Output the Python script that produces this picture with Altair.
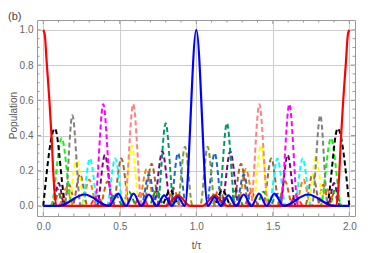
import altair as alt
import pandas as pd

# ---------- data (t/tau, population) ----------
red_t = [0.0, 0.01, 0.022, 0.04, 0.055, 0.068, 0.085, 0.8, 0.88, 0.96, 1.04, 1.12, 1.2, 1.915, 1.932, 1.945, 1.96, 1.978, 1.99, 2.0]
red_y = [1.0, 0.97, 0.82, 0.6, 0.38, 0.15, 0.0, 0.0, 0.06, 0.0, 0.0, 0.06, 0.0, 0.0, 0.15, 0.38, 0.6, 0.82, 0.97, 1.0]

blue_t = [0.0, 0.1, 0.27, 0.43, 0.49, 0.54, 0.59, 0.64, 0.69, 0.74, 0.79, 0.84, 0.88, 0.925, 1.0, 1.075,
          1.12, 1.16, 1.21, 1.26, 1.31, 1.36, 1.41, 1.46, 1.51, 1.57, 1.73, 1.9, 2.0]
blue_y = [0.0, 0.0, 0.065, 0.0, 0.07, 0.0, 0.07, 0.0, 0.065, 0.0, 0.06, 0.0, 0.05, 0.0, 1.0, 0.0,
          0.05, 0.0, 0.06, 0.0, 0.065, 0.0, 0.07, 0.0, 0.07, 0.0, 0.065, 0.0, 0.0]

black_t = [0.0, 0.076, 0.15, 0.77, 0.83, 0.89, 1.11, 1.17, 1.23, 1.85, 1.924, 2.0]
black_y = [0.0, 0.44, 0.0, 0.0, 0.09, 0.0, 0.0, 0.09, 0.0, 0.0, 0.44, 0.0]

lime_t = [0.0, 0.05, 0.12, 0.19, 1.81, 1.88, 1.95, 2.0]
lime_y = [0.0, 0.0, 0.385, 0.0, 0.0, 0.385, 0.0, 0.0]

gray_t = [0.0, 0.14, 0.19, 0.245, 1.755, 1.81, 1.86, 2.0]
gray_y = [0.0, 0.0, 0.515, 0.0, 0.0, 0.515, 0.0, 0.0]

yellow_t = [0.0, 0.165, 0.218, 0.27, 0.525, 0.578, 0.63, 1.37, 1.422, 1.475, 1.73, 1.782, 1.835, 2.0]
yellow_y = [0.0, 0.0, 0.28, 0.0, 0.0, 0.345, 0.0, 0.0, 0.345, 0.0, 0.0, 0.28, 0.0, 0.0]

cyan_t = [0.0, 0.25, 0.305, 0.36, 0.415, 0.47, 0.525, 1.475, 1.53, 1.585, 1.64, 1.695, 1.75, 2.0]
cyan_y = [0.0, 0.0, 0.27, 0.0, 0.0, 0.27, 0.0, 0.0, 0.27, 0.0, 0.0, 0.27, 0.0, 0.0]

magenta_t = [0.0, 0.335, 0.392, 0.45, 1.55, 1.608, 1.665, 2.0]
magenta_y = [0.0, 0.0, 0.578, 0.0, 0.0, 0.578, 0.0, 0.0]

purple_t = [0.0, 0.06, 0.10, 0.14, 0.35, 0.403, 0.455, 0.72, 0.778, 0.835,
            1.165, 1.222, 1.28, 1.545, 1.597, 1.65, 1.86, 1.90, 1.94, 2.0]
purple_y = [0.0, 0.0, 0.13, 0.0, 0.0, 0.29, 0.0, 0.0, 0.31, 0.0,
            0.0, 0.31, 0.0, 0.0, 0.29, 0.0, 0.0, 0.13, 0.0, 0.0]

brown_t = [0.0, 0.19, 0.24, 0.29, 0.455, 0.51, 0.565, 0.655, 0.708, 0.76,
           1.24, 1.292, 1.345, 1.435, 1.49, 1.545, 1.71, 1.76, 1.81, 2.0]
brown_y = [0.0, 0.0, 0.18, 0.0, 0.0, 0.27, 0.0, 0.0, 0.24, 0.0,
           0.0, 0.24, 0.0, 0.0, 0.27, 0.0, 0.0, 0.18, 0.0, 0.0]

salmon_t = [0.0, 0.53, 0.588, 0.645, 1.355, 1.412, 1.47, 2.0]
salmon_y = [0.0, 0.0, 0.578, 0.0, 0.0, 0.578, 0.0, 0.0]

teal_t = [0.0, 0.42, 0.47, 0.52, 0.745, 0.80, 0.855, 1.145, 1.20, 1.255, 1.48, 1.53, 1.58, 2.0]
teal_y = [0.0, 0.0, 0.07, 0.0, 0.0, 0.47, 0.0, 0.0, 0.47, 0.0, 0.0, 0.07, 0.0, 0.0]

steel_t = [0.0, 0.64, 0.69, 0.74, 0.83, 0.88, 0.935, 1.065, 1.12, 1.17, 1.26, 1.31, 1.36, 2.0]
steel_y = [0.0, 0.0, 0.18, 0.0, 0.0, 0.30, 0.0, 0.0, 0.30, 0.0, 0.0, 0.18, 0.0, 0.0]

olive_t = [0.0, 0.875, 0.926, 0.975, 1.025, 1.074, 1.125, 2.0]
olive_y = [0.0, 0.0, 0.336, 0.0, 0.0, 0.336, 0.0, 0.0]

orange_t = [0.0, 0.1, 0.15, 0.2, 0.25, 0.3, 0.35, 0.62, 0.676, 0.73,
            1.27, 1.324, 1.38, 1.65, 1.7, 1.75, 1.8, 1.85, 1.9, 2.0]
orange_y = [0.0, 0.0, 0.1, 0.0, 0.0, 0.15, 0.0, 0.0, 0.21, 0.0,
            0.0, 0.21, 0.0, 0.0, 0.15, 0.0, 0.0, 0.1, 0.0, 0.0]

reddash_t = [0.0, 0.06, 0.1, 0.14, 0.3, 0.35, 0.4, 0.59, 0.64, 0.69,
             1.31, 1.36, 1.41, 1.6, 1.65, 1.7, 1.86, 1.9, 1.94, 2.0]
reddash_y = [0.0, 0.0, 0.07, 0.0, 0.0, 0.06, 0.0, 0.0, 0.08, 0.0,
             0.0, 0.08, 0.0, 0.0, 0.06, 0.0, 0.0, 0.07, 0.0, 0.0]

green_t = [0.0, 0.05, 0.09, 0.13, 0.51, 0.56, 0.61, 0.69, 0.74, 0.79,
           1.21, 1.26, 1.31, 1.39, 1.44, 1.49, 1.87, 1.91, 1.95, 2.0]
green_y = [0.0, 0.0, 0.1, 0.0, 0.0, 0.08, 0.0, 0.0, 0.09, 0.0,
           0.0, 0.09, 0.0, 0.0, 0.08, 0.0, 0.0, 0.1, 0.0, 0.0]

dkorange_t = [0.0, 0.13, 0.17, 0.21, 0.37, 0.42, 0.47, 0.8, 0.85, 0.9,
              1.1, 1.15, 1.2, 1.53, 1.58, 1.63, 1.79, 1.83, 1.87, 2.0]
dkorange_y = [0.0, 0.0, 0.12, 0.0, 0.0, 0.14, 0.0, 0.0, 0.1, 0.0,
              0.0, 0.1, 0.0, 0.0, 0.14, 0.0, 0.0, 0.12, 0.0, 0.0]

dashed_series = [
    ("small red", "#FF3030", reddash_t, reddash_y),
    ("small green", "#00B000", green_t, green_y),
    ("dark orange", "#CC6600", dkorange_t, dkorange_y),
    ("orange", "#FF8000", orange_t, orange_y),
    ("brown", "#996633", brown_t, brown_y),
    ("cyan", "#00FFFF", cyan_t, cyan_y),
    ("yellow", "#FFFF00", yellow_t, yellow_y),
    ("purple", "#800080", purple_t, purple_y),
    ("steel", "#1F66CC", steel_t, steel_y),
    ("olive", "#80A020", olive_t, olive_y),
    ("teal", "#009966", teal_t, teal_y),
    ("lime", "#00FF00", lime_t, lime_y),
    ("black", "#000000", black_t, black_y),
    ("gray", "#808080", gray_t, gray_y),
    ("magenta", "#FF00FF", magenta_t, magenta_y),
    ("salmon", "#FF8080", salmon_t, salmon_y),
]
solid_series = [
    ("red", "#FF0000", red_t, red_y),
    ("blue", "#0000FF", blue_t, blue_y),
]

x_labels = [0.0, 0.5, 1.0, 1.5, 2.0]
y_labels = [0.0, 0.2, 0.4, 0.6, 0.8, 1.0]
x_minor = [0.1, 0.2, 0.3, 0.4, 0.6, 0.7, 0.8, 0.9, 1.1, 1.2, 1.3, 1.4, 1.6, 1.7, 1.8, 1.9]
y_minor = [0.05, 0.1, 0.15, 0.25, 0.3, 0.35, 0.45, 0.5, 0.55, 0.65, 0.7, 0.75, 0.85, 0.9, 0.95]


def frame(series_list):
    rows = []
    for name, _, ts, ys in series_list:
        for i, (t, y) in enumerate(zip(ts, ys)):
            rows.append({"series": name, "t": t, "y": y, "idx": i})
    return pd.DataFrame(rows)


W, H = 318, 196
FONT = "Liberation Sans"
xscale = alt.Scale(domain=[-0.041, 2.037], nice=False, zero=False)
yscale = alt.Scale(domain=[-0.057, 1.056], nice=False, zero=False)

xaxis = alt.Axis(values=x_labels, format=".1f", grid=True, gridColor="#cccccc", gridWidth=1,
                 ticks=False, tickSize=0, domain=False, labelPadding=5, labelFontSize=10,
                 labelColor="#666666", labelFont=FONT, title="t/τ", titleFont=FONT,
                 titleFontSize=10, titleFontWeight="normal", titleColor="#555555", titlePadding=9)
yaxis = alt.Axis(values=y_labels, format=".1f", grid=True, gridColor="#cccccc", gridWidth=1,
                 ticks=False, tickSize=0, domain=False, labelPadding=4, labelFontSize=10,
                 labelColor="#666666", labelFont=FONT, title="Population", titleFont=FONT,
                 titleFontSize=10, titleFontWeight="normal", titleColor="#555555",
                 titleX=-19, titleY=95)

all_series = dashed_series + solid_series
names = [s[0] for s in all_series]
colors = [s[1] for s in all_series]
color_enc = alt.Color("series:N", scale=alt.Scale(domain=names, range=colors), legend=None)

X = alt.X("t:Q", scale=xscale, axis=xaxis, title="t/τ")
Y = alt.Y("y:Q", scale=yscale, axis=yaxis, title="Population")

dashed = alt.Chart(frame(dashed_series)).mark_line(
    interpolate="monotone", strokeDash=[5, 3], strokeWidth=2, clip=True
).encode(x=X, y=Y, color=color_enc, order=alt.Order("idx:Q"))

solid = alt.Chart(frame(solid_series)).mark_line(
    interpolate="monotone", strokeWidth=2.2, clip=True
).encode(x=X, y=Y, color=color_enc, order=alt.Order("idx:Q"))

tick_color = "#999999"
xmaj = pd.DataFrame({"t": x_labels})
xmin = pd.DataFrame({"t": x_minor})
ymaj = pd.DataFrame({"y": y_labels})
ymin = pd.DataFrame({"y": y_minor})


def xticks(df, length):
    bottom = alt.Chart(df).mark_rule(color=tick_color, strokeWidth=1).encode(
        x=X, y=alt.value(H), y2=alt.value(H - length))
    top = alt.Chart(df).mark_rule(color=tick_color, strokeWidth=1).encode(
        x=X, y=alt.value(0), y2=alt.value(length))
    return [bottom, top]


def yticks(df, length):
    left = alt.Chart(df).mark_rule(color=tick_color, strokeWidth=1).encode(
        y=Y, x=alt.value(0), x2=alt.value(length))
    right = alt.Chart(df).mark_rule(color=tick_color, strokeWidth=1).encode(
        y=Y, x=alt.value(W), x2=alt.value(W - length))
    return [left, right]


layers = [dashed, solid] + xticks(xmaj, 4) + xticks(xmin, 2.5) + yticks(ymaj, 4) + yticks(ymin, 2.5)

chart = alt.layer(*layers).properties(
    width=W, height=H,
    autosize=alt.AutoSizeParams(type="none"),
    padding={"left": 29, "top": 12, "right": 20, "bottom": 37},
    title=alt.TitleParams(text="(b)", anchor="start", frame="group", dx=-29, dy=2, offset=0,
                          fontSize=11, fontWeight="normal", color="#444444", font=FONT),
).configure_view(stroke="#999999", strokeWidth=1)

chart.save("out.html", embed_options={"renderer": "svg", "actions": False})
